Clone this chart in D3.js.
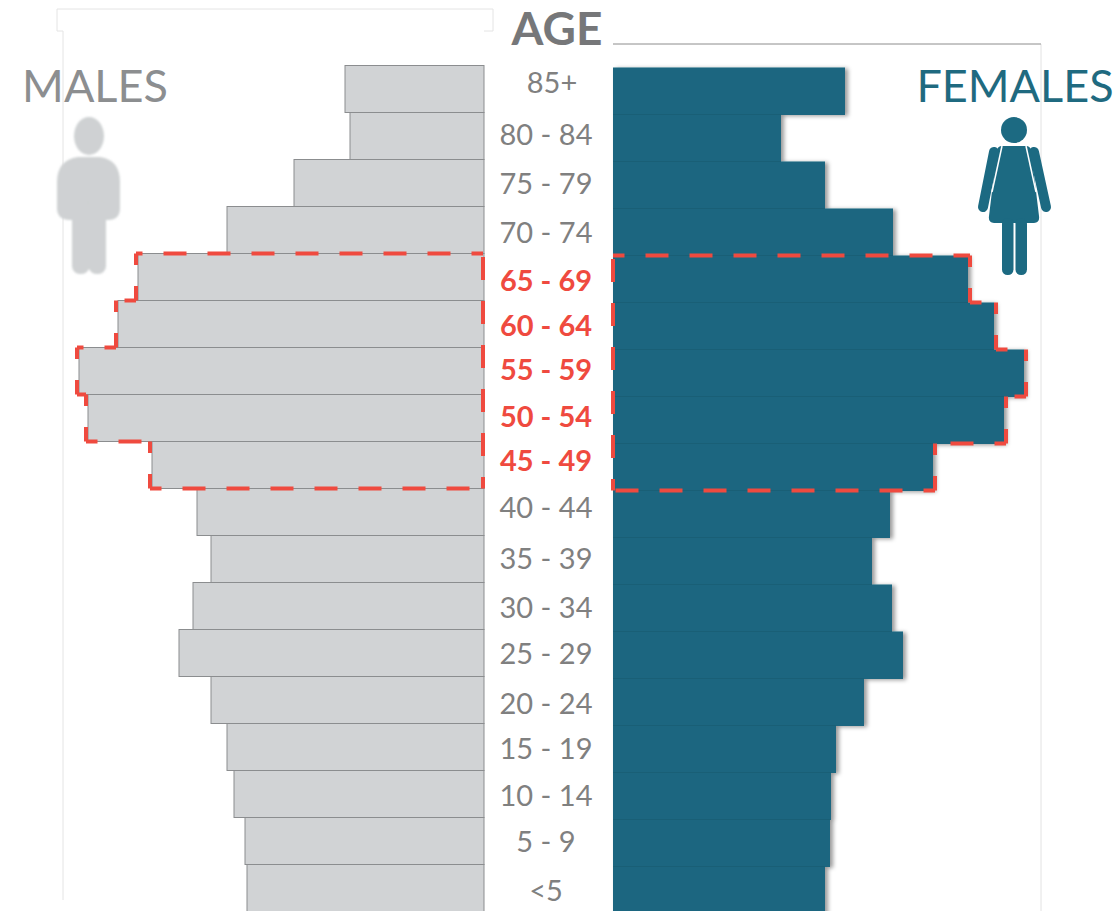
<!DOCTYPE html>
<html>
<head>
<meta charset="utf-8">
<script src="https://cdn.jsdelivr.net/npm/d3@7"></script>
<style>
html, body { margin: 0; padding: 0; background: #fff; overflow: hidden; }
text { font-family: Lato, "Open Sans", sans-serif; }
</style>
</head>
<body>
<svg id="chart" width="1117" height="911"></svg>
<script>
// Age groups, oldest first, same order as the picture
const ageGroups = ["85+", "80 - 84", "75 - 79", "70 - 74", "65 - 69", "60 - 64", "55 - 59", "50 - 54",
    "45 - 49", "40 - 44", "35 - 39", "30 - 34", "25 - 29", "20 - 24", "15 - 19", "10 - 14", "5 - 9", "<5"];

// Bar lengths (no axis in the original, so relative units)
const males = [139, 134, 190, 257, 346, 366, 405, 396, 332, 287, 273, 291, 305, 273, 257, 250, 239, 237];
const females = [232, 168, 212, 280, 355, 381, 411, 391, 320, 277, 259, 279, 290, 251, 223, 218, 217, 212];

const highlighted = ["65 - 69", "60 - 64", "55 - 59", "50 - 54", "45 - 49"];

const GREY = "#d1d3d5";
const TEAL = "#1c6680";
const RED = "#ef4a3f";
const LABEL = "#808080";

const svg = d3.select("#chart");

const defs = svg.append("defs");
const shadow = defs.append("filter").attr("id", "barShadow")
    .attr("x", "-5%").attr("y", "-5%").attr("width", "115%").attr("height", "115%");
shadow.append("feDropShadow").attr("dx", 3).attr("dy", 1).attr("stdDeviation", 2)
    .attr("flood-color", "#000").attr("flood-opacity", 0.4);
defs.append("filter").attr("id", "soft").append("feGaussianBlur").attr("stdDeviation", 1);

// Scales
const maleX = d3.scaleLinear().domain([0, 405]).range([484, 79]);
const femaleX = d3.scaleLinear().domain([0, 411]).range([613, 1024]);
const maleY = d3.scaleBand().domain(ageGroups).range([65.5, 911.5]);
const femaleY = d3.scaleBand().domain(ageGroups).range([67.5, 913.5]);

// Faint frames behind the bars
const frames = svg.append("g").attr("fill", "none");
frames.append("path")
    .attr("d", "M63,900V31H57V9H493V31H484")
    .attr("stroke", "#e4e4e4").attr("stroke-width", 1);
frames.append("path")
    .attr("d", "M613,44H1041V911")
    .attr("stroke", "#e2e2e2").attr("stroke-width", 1);
frames.append("path")
    .attr("d", "M613,44H1041")
    .attr("stroke", "#9a9a9a").attr("stroke-width", 1);

// Male bars
svg.append("g").selectAll("rect")
    .data(ageGroups)
    .join("rect")
    .attr("x", (d, i) => maleX(males[i]))
    .attr("y", d => maleY(d))
    .attr("width", (d, i) => maleX(0) - maleX(males[i]))
    .attr("height", maleY.bandwidth())
    .attr("fill", GREY)
    .attr("stroke", "#8b8d8f")
    .attr("stroke-width", 1);

// Female bars
svg.append("g").attr("filter", "url(#barShadow)").selectAll("rect")
    .data(ageGroups)
    .join("rect")
    .attr("x", femaleX(0))
    .attr("y", d => femaleY(d))
    .attr("width", (d, i) => femaleX(females[i]) - femaleX(0))
    .attr("height", femaleY.bandwidth() + 0.5)
    .attr("fill", TEAL);

svg.append("g").selectAll("line")
    .data(ageGroups.slice(1))
    .join("line")
    .attr("x1", femaleX(0))
    .attr("x2", (d, i) => femaleX(Math.min(females[i], females[i + 1])))
    .attr("y1", d => femaleY(d))
    .attr("y2", d => femaleY(d))
    .attr("stroke", "#175a70")
    .attr("stroke-opacity", 0.6)
    .attr("stroke-width", 1);

// Stepped dashed outline round the highlighted groups, one path per side
// so that every corner carries a dash
function outline(xScale, yScale, values, baseX, pad) {
    const rows = highlighted.map(a => ({ top: yScale(a), bottom: yScale(a) + yScale.bandwidth(), v: values[ageGroups.indexOf(a)] }));
    const dir = xScale(1) > xScale(0) ? 1 : -1;
    const pts = [[baseX, rows[0].top]];
    rows.forEach(r => {
        pts.push([xScale(r.v) + dir * pad, r.top]);
        pts.push([xScale(r.v) + dir * pad, r.bottom]);
    });
    pts.push([baseX, rows[rows.length - 1].bottom]);
    pts.push(pts[0]);
    return d3.pairs(pts);
}

svg.append("g")
    .attr("fill", "none")
    .attr("stroke", RED)
    .attr("stroke-width", 4)
    .attr("stroke-dasharray", "23,21")
    .attr("stroke-dashoffset", 11.5)
    .selectAll("line")
    .data(outline(maleX, maleY, males, 483, 2).concat(outline(femaleX, femaleY, females, 613, 2)))
    .join("line")
    .attr("x1", d => d[0][0]).attr("y1", d => d[0][1])
    .attr("x2", d => d[1][0]).attr("y2", d => d[1][1]);

// Age labels, the hand-placed labels in the original sit a little unevenly
const labelShift = {
    "85+": -7, "80 - 84": -2, "70 - 74": 2, "65 - 69": 3, "60 - 64": 1, "55 - 59": -2, "50 - 54": -2,
    "45 - 49": -5, "40 - 44": -5, "35 - 39": -1, "30 - 34": 1, "20 - 24": 3, "15 - 19": 1, "10 - 14": 1, "<5": 2
};
svg.append("g").selectAll("text")
    .data(ageGroups)
    .join("text")
    .attr("x", d => d === "85+" ? 552 : 546)
    .attr("y", d => maleY(d) + maleY.bandwidth() / 2 + 11 + (labelShift[d] || 0))
    .attr("text-anchor", "middle")
    .attr("font-size", 29)
    .attr("font-weight", d => highlighted.includes(d) ? 700 : 400)
    .attr("fill", d => highlighted.includes(d) ? RED : LABEL)
    .text(d => d);

// Titles
svg.append("text").attr("x", 557).attr("y", 45)
    .attr("text-anchor", "middle").attr("font-size", 46).attr("font-weight", 700)
    .attr("fill", "#767779").text("AGE");
svg.append("text").attr("x", 95).attr("y", 102)
    .attr("text-anchor", "middle").attr("font-size", 45)
    .attr("fill", "#8c8e90").text("MALES");
svg.append("text").attr("x", 1015).attr("y", 102)
    .attr("text-anchor", "middle").attr("font-size", 45)
    .attr("fill", "#1f6a80").text("FEMALES");

// Male figure
const man = svg.append("g").attr("fill", "#cfd1d3").attr("filter", "url(#soft)");
man.append("ellipse").attr("cx", 89).attr("cy", 136).attr("rx", 15).attr("ry", 19);
man.append("path").attr("d", "M78,157H100Q120,160 120,182V208Q120,220 108,220H70Q57,220 57,208V182Q57,160 78,157Z");
man.append("rect").attr("x", 72).attr("y", 200).attr("width", 17.5).attr("height", 74).attr("rx", 8);
man.append("rect").attr("x", 88.5).attr("y", 200).attr("width", 17.5).attr("height", 74).attr("rx", 8);

// Female figure
const woman = svg.append("g").attr("fill", "#1c6a82");
woman.append("circle").attr("cx", 1014).attr("cy", 130).attr("r", 13);
woman.append("path").attr("d", "M1002,146H1026Q1030,146 1031,150L1039,216Q1040,223 1034,223H994Q988,223 989,216L997,150Q998,146 1002,146Z");
woman.append("rect").attr("x", 1002).attr("y", 218).attr("width", 11.5).attr("height", 57).attr("rx", 5.5);
woman.append("rect").attr("x", 1015.5).attr("y", 218).attr("width", 11.5).attr("height", 57).attr("rx", 5.5);
woman.selectAll("line")
    .data([[994, 152, 983, 207], [1034, 152, 1046, 207]])
    .join("line")
    .attr("x1", d => d[0]).attr("y1", d => d[1]).attr("x2", d => d[2]).attr("y2", d => d[3])
    .attr("stroke", "#1c6a82").attr("stroke-width", 10).attr("stroke-linecap", "round");
woman.selectAll("path.gap")
    .data(["M1002,146L992,192", "M1026,146L1036,192"])
    .join("path")
    .attr("class", "gap")
    .attr("d", d => d)
    .attr("fill", "none").attr("stroke", "#fff").attr("stroke-width", 1.5);
</script>
</body>
</html>
